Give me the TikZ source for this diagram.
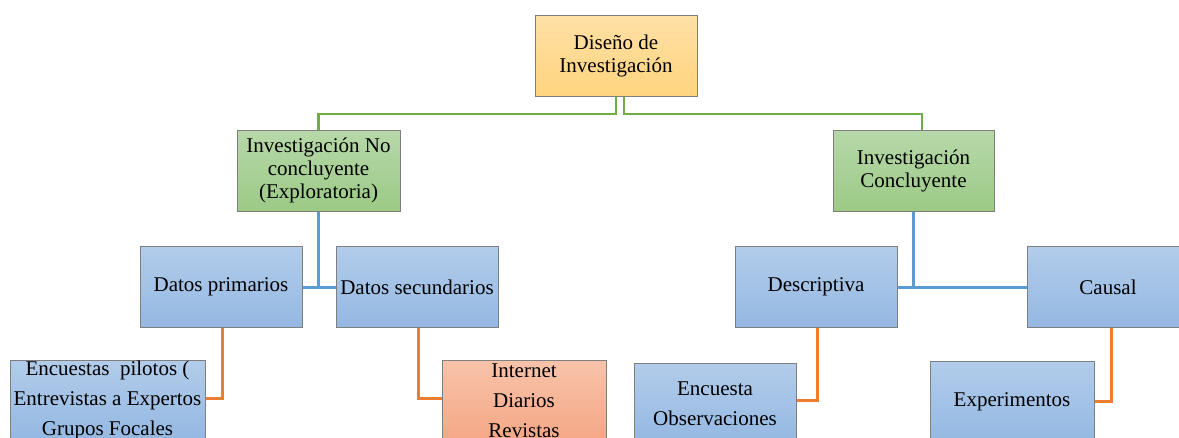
\documentclass[tikz,border=0pt]{standalone}
\usepackage{fontspec}
\setmainfont{Liberation Serif}
\definecolor{borderc}{HTML}{7F7F7F}
\definecolor{orT}{HTML}{FFE0A6}
\definecolor{orB}{HTML}{FFD47E}
\definecolor{grT}{HTML}{B7D8A9}
\definecolor{grB}{HTML}{9CCA86}
\definecolor{blT}{HTML}{B2CCEA}
\definecolor{blB}{HTML}{94B8E2}
\definecolor{saT}{HTML}{F8C3AA}
\definecolor{saB}{HTML}{F4A785}
\definecolor{gline}{HTML}{70AD47}
\definecolor{bline}{HTML}{5B9BD5}
\definecolor{oline}{HTML}{ED7D31}
\begin{document}
\begin{tikzpicture}[x=1pt,y=-1pt,
  box/.style={draw=borderc, line width=1pt, minimum height=81pt, minimum width=162pt,
    inner sep=0pt, align=center, font=\fontsize{21}{23}\selectfont},
  topbox/.style={box, top color=orT, bottom color=orB},
  greenbox/.style={box, top color=grT, bottom color=grB},
  bluebox/.style={box, top color=blT, bottom color=blB},
  leafbox/.style={box, top color=blT, bottom color=blB, font=\fontsize{21}{30}\selectfont},
  salmonbox/.style={box, top color=saT, bottom color=saB, font=\fontsize{21}{30}\selectfont},
  gconn/.style={draw=gline, line width=2.5pt},
  bconn/.style={draw=bline, line width=3pt},
  oconn/.style={draw=oline, line width=3pt}]
\useasboundingbox (0,0) rectangle (1179,437);
\clip (0,0) rectangle (1179,437);

\node[topbox] (top) at (616,55.5) {Diseño de\\Investigación};
\node[greenbox, minimum width=163pt] (inv1) at (318.5,170.5) {Investigación No\\concluyente\\(Exploratoria)};
\node[greenbox, minimum width=161pt] (inv2) at (913.5,170.5) {Investigación\\Concluyente};

\node[bluebox] (p1) at (221,287) {Datos primarios};
\node[bluebox] (p2) at (417,287) {Datos secundarios};
\node[bluebox] (d1) at (816,287) {Descriptiva};
\node[bluebox] (d2) at (1108,287) {Causal};

\node[leafbox, minimum width=195pt] (e1) at (107.5,400.5) {Encuestas\ \ pilotos (\\Entrevistas a Expertos\\Grupos Focales};
\node[salmonbox, minimum width=164pt] (e2) at (524,400.5) {Internet\\Diarios\\Revistas};
\node[leafbox] (e3) at (715,403.5) {Encuesta\\Observaciones};
\node[leafbox, minimum width=164pt] (e4) at (1012,401.5) {Experimentos};

% green connectors
\draw[gconn] (top.south) -- ++(0,17.5) -| (inv1.north);
\draw[gconn] ([xshift=8pt]top.south) -- ++(0,17.5) -| ([xshift=8.5pt]inv2.north);

% blue connectors
\draw[bconn] (inv1.south) -- (inv1.south |- p1.east);
\draw[bconn] (p1.east) -- (p2.west);
\draw[bconn] (inv2.south) -- (inv2.south |- d1.east);
\draw[bconn] (d1.east) -- (d2.west);

% orange connectors
\draw[oconn] ([xshift=1pt]p1.south) |- ([yshift=2pt]e1.east);
\draw[oconn] ([xshift=1pt]p2.south) |- ([yshift=2pt]e2.west);
\draw[oconn] ([xshift=1pt]d1.south) |- ([yshift=3.5pt]e3.east);
\draw[oconn] ([xshift=3pt]d2.south) |- (e4.east);
\end{tikzpicture}
\end{document}
